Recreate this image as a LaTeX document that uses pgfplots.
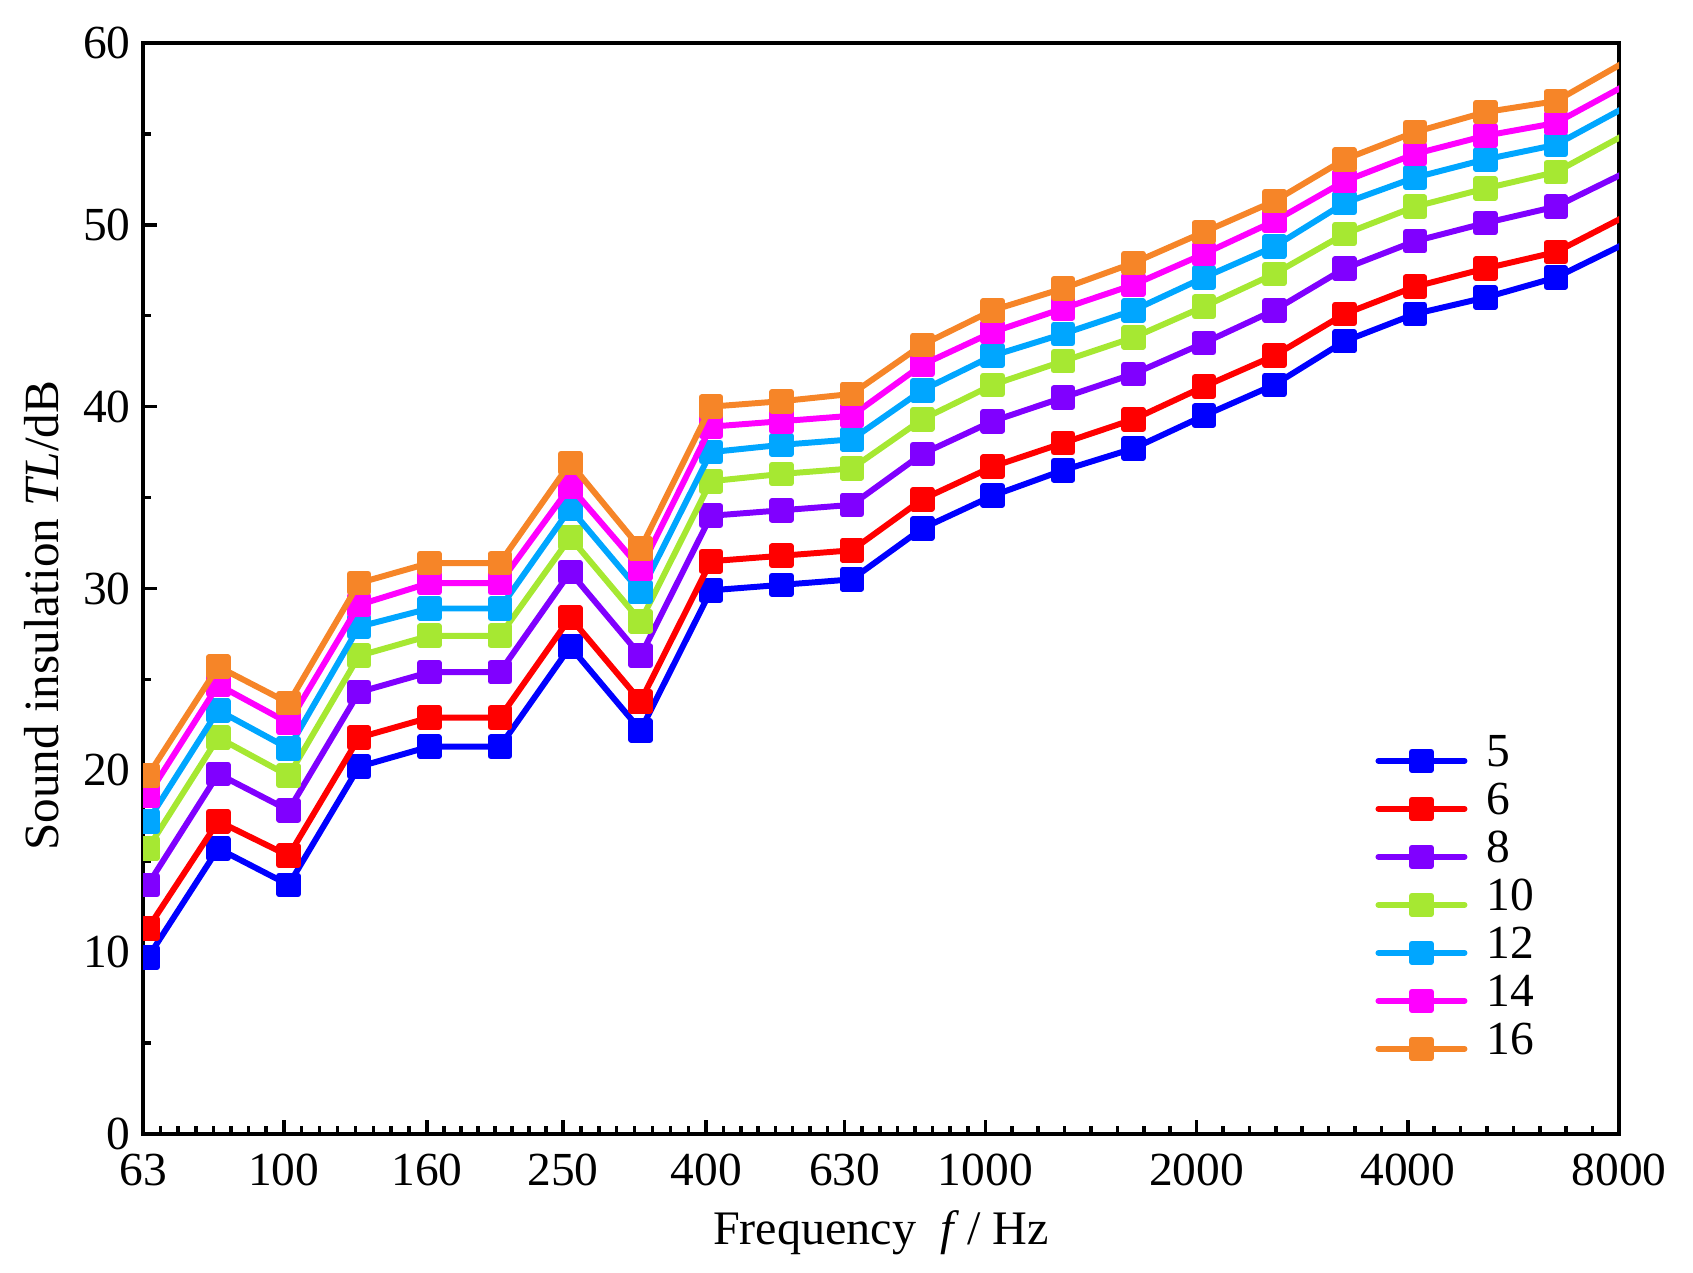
\documentclass[border=0pt]{standalone}
\usepackage{fontspec}
\setmainfont{Liberation Serif}
\usepackage{pgfplots}
\pgfplotsset{compat=1.18}
\definecolor{c5}{RGB}{0,0,255}
\definecolor{c6}{RGB}{255,0,0}
\definecolor{c8}{RGB}{128,0,255}
\definecolor{c10}{RGB}{166,232,50}
\definecolor{c12}{RGB}{0,166,255}
\definecolor{c14}{RGB}{255,0,255}
\definecolor{c16}{RGB}{246,133,40}
\begin{document}
\begin{tikzpicture}
\path[use as bounding box] (-1.43cm,-1.39cm) rectangle (15.50cm,11.34cm);
\begin{axis}[
  at={(0,0)}, anchor=south west,
  scale only axis, width=14.76cm, height=10.91cm,
  xmode=log, xmin=63, xmax=8000, ymin=0, ymax=60,
  xtick={63,100,160,250,400,630,1000,2000,4000,8000},
  xticklabels={63,100,160,250,400,630,1000,2000,4000,8000},
  minor xtick={66.75,70.71,74.92,79.37,84.09,89.09,94.39,
    106.05,112.47,119.27,126.49,134.14,142.26,150.87,
    169.18,178.88,189.15,200,211.47,223.61,236.43,
    265.13,281.17,298.19,316.23,335.36,355.66,377.18,
    423.37,448.11,474.29,502,531.33,562.38,595.24,
    667.46,707.14,749.18,793.7,840.9,890.9,943.87,
    1090.5,1189.2,1296.8,1414.2,1542.2,1681.8,1834,
    2181,2378.4,2593.7,2828.4,3084.4,3363.6,3668,
    4362,4756.8,5187.3,5656.9,6168.8,6727.2,7336},
  ytick={0,10,20,30,40,50,60},
  minor y tick num=1,
  tick align=inside, xtick pos=bottom, ytick pos=left,
  major tick length=0.14cm, minor tick length=0.08cm,
  every tick/.style={black, line width=1pt},
  axis line style={line width=1pt},
  /pgf/number format/assume math mode=true,
  tick label style={font=\fontsize{13.5}{16}\selectfont},
  xticklabel style={yshift=-0.08cm},
  label style={font=\fontsize{14}{17}\selectfont},
  xlabel={Frequency\ \ \textit{f}\,/ Hz},
  xlabel style={font=\fontsize{13.7}{17}\selectfont},
  ylabel={Sound insulation \textit{TL}/dB},
  ylabel style={at={(ticklabel cs:0.475)}},
  clip marker paths=true,
  every axis plot/.append style={line width=1.7pt, mark=square*, mark size=2.65pt, line cap=round, line join=round},
  legend image code/.code={\draw[mark repeat=2,mark phase=2,#1] plot coordinates {(0cm,0cm) (0.43cm,0cm) (0.86cm,0cm)};},
  legend cell align=left,
  legend style={draw=none, fill=none, at={(rel axis cs:0.835,0.364)}, anchor=north west,
    inner sep=0pt, outer sep=0pt,
    nodes={inner sep=0pt, text height=0.3cm, text depth=0.18cm, font=\fontsize{13.5}{16}\selectfont},
    /tikz/every odd column/.append style={column sep=0.19cm}},
]
\addplot[c5] coordinates {(64,9.7)(80.63,15.7)(101.59,13.7)(128,20.2)(161.27,21.3)(203.19,21.3)(256,26.8)(322.54,22.2)(406.37,29.9)(512,30.2)(645.08,30.5)(812.75,33.3)(1024,35.1)(1290.16,36.5)(1625.5,37.7)(2048,39.5)(2580.32,41.2)(3251,43.6)(4096,45.1)(5160.64,46.0)(6501.99,47.1)(8192,49.0)};
\addlegendentry{5}
\addplot[c6] coordinates {(64,11.3)(80.63,17.2)(101.59,15.3)(128,21.8)(161.27,22.9)(203.19,22.9)(256,28.4)(322.54,23.8)(406.37,31.5)(512,31.8)(645.08,32.1)(812.75,34.9)(1024,36.7)(1290.16,38.0)(1625.5,39.3)(2048,41.1)(2580.32,42.8)(3251,45.1)(4096,46.6)(5160.64,47.6)(6501.99,48.5)(8192,50.5)};
\addlegendentry{6}
\addplot[c8] coordinates {(64,13.7)(80.63,19.8)(101.59,17.8)(128,24.3)(161.27,25.4)(203.19,25.4)(256,30.9)(322.54,26.3)(406.37,34.0)(512,34.3)(645.08,34.6)(812.75,37.4)(1024,39.2)(1290.16,40.5)(1625.5,41.8)(2048,43.5)(2580.32,45.3)(3251,47.6)(4096,49.1)(5160.64,50.1)(6501.99,51.0)(8192,52.9)};
\addlegendentry{8}
\addplot[c10] coordinates {(64,15.7)(80.63,21.8)(101.59,19.7)(128,26.3)(161.27,27.4)(203.19,27.4)(256,32.8)(322.54,28.2)(406.37,35.9)(512,36.3)(645.08,36.6)(812.75,39.3)(1024,41.2)(1290.16,42.5)(1625.5,43.8)(2048,45.5)(2580.32,47.3)(3251,49.5)(4096,51.0)(5160.64,52.0)(6501.99,52.9)(8192,55.0)};
\addlegendentry{10}
\addplot[c12] coordinates {(64,17.2)(80.63,23.3)(101.59,21.2)(128,27.9)(161.27,28.9)(203.19,28.9)(256,34.4)(322.54,29.8)(406.37,37.5)(512,37.9)(645.08,38.2)(812.75,40.9)(1024,42.8)(1290.16,44.0)(1625.5,45.3)(2048,47.1)(2580.32,48.8)(3251,51.2)(4096,52.6)(5160.64,53.6)(6501.99,54.4)(8192,56.5)};
\addlegendentry{12}
\addplot[c14] coordinates {(64,18.6)(80.63,24.7)(101.59,22.6)(128,29.1)(161.27,30.3)(203.19,30.3)(256,35.6)(322.54,31.1)(406.37,38.9)(512,39.2)(645.08,39.5)(812.75,42.3)(1024,44.1)(1290.16,45.4)(1625.5,46.7)(2048,48.4)(2580.32,50.2)(3251,52.4)(4096,53.9)(5160.64,54.9)(6501.99,55.6)(8192,57.7)};
\addlegendentry{14}
\addplot[c16] coordinates {(64,19.7)(80.63,25.7)(101.59,23.7)(128,30.3)(161.27,31.4)(203.19,31.4)(256,36.9)(322.54,32.2)(406.37,40.0)(512,40.3)(645.08,40.7)(812.75,43.4)(1024,45.3)(1290.16,46.5)(1625.5,47.9)(2048,49.6)(2580.32,51.3)(3251,53.6)(4096,55.1)(5160.64,56.2)(6501.99,56.8)(8192,59.0)};
\addlegendentry{16}
\end{axis}
\end{tikzpicture}
\end{document}
